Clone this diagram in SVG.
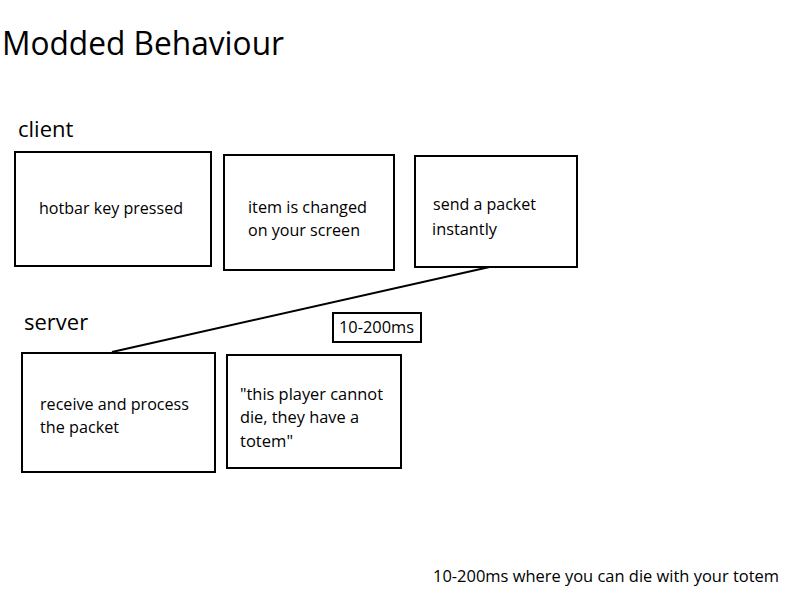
<svg xmlns="http://www.w3.org/2000/svg" width="800" height="600" viewBox="0 0 800 600">
<style>
text{font-family:"Open Sans","Liberation Sans",sans-serif;fill:#000}
.t{font-size:15.5px}
.h{font-size:22px}
rect{fill:#fff;stroke:#000;stroke-width:2}
</style>
<rect x="0" y="0" width="800" height="600" style="stroke:none"/>
<text x="2" y="55" style="font-size:32px" textLength="282" lengthAdjust="spacingAndGlyphs">Modded Behaviour</text>
<text class="h" x="18" y="137">client</text>
<text class="h" x="24" y="330">server</text>
<g id="connectors">
<line x1="494" y1="266" x2="112" y2="352" stroke="#000" stroke-width="2"/>
</g>
<g id="n1"><rect x="15" y="152" width="196" height="114"/>
<text class="t" x="39" y="214" textLength="144" lengthAdjust="spacingAndGlyphs">hotbar key pressed</text></g>
<g id="n2"><rect x="224" y="155" width="170" height="115"/>
<text class="t" x="248" y="213" textLength="119" lengthAdjust="spacingAndGlyphs">item is changed</text>
<text class="t" x="248" y="236" textLength="112" lengthAdjust="spacingAndGlyphs">on your screen</text></g>
<g id="n3"><rect x="415" y="156" width="162" height="111"/>
<text class="t" x="433" y="210" textLength="103" lengthAdjust="spacingAndGlyphs">send a packet</text>
<text class="t" x="432" y="235" textLength="65" lengthAdjust="spacingAndGlyphs">instantly</text></g>
<g id="n4"><rect x="333" y="313" width="88" height="29"/>
<text class="t" x="339" y="333" textLength="75" lengthAdjust="spacingAndGlyphs">10-200ms</text></g>
<g id="n5"><rect x="22" y="353" width="193" height="119"/>
<text class="t" x="40" y="410" textLength="149" lengthAdjust="spacingAndGlyphs">receive and process</text>
<text class="t" x="40" y="433" textLength="79" lengthAdjust="spacingAndGlyphs">the packet</text></g>
<g id="n6"><rect x="227" y="355" width="174" height="113"/>
<text class="t" x="240" y="400" textLength="143" lengthAdjust="spacingAndGlyphs">"this player cannot</text>
<text class="t" x="240" y="423" textLength="119" lengthAdjust="spacingAndGlyphs">die, they have a</text>
<text class="t" x="240" y="447" textLength="53" lengthAdjust="spacingAndGlyphs">totem"</text></g>
<text class="t" x="433" y="582" textLength="346" lengthAdjust="spacingAndGlyphs">10-200ms  where you can die with your totem</text>
</svg>
